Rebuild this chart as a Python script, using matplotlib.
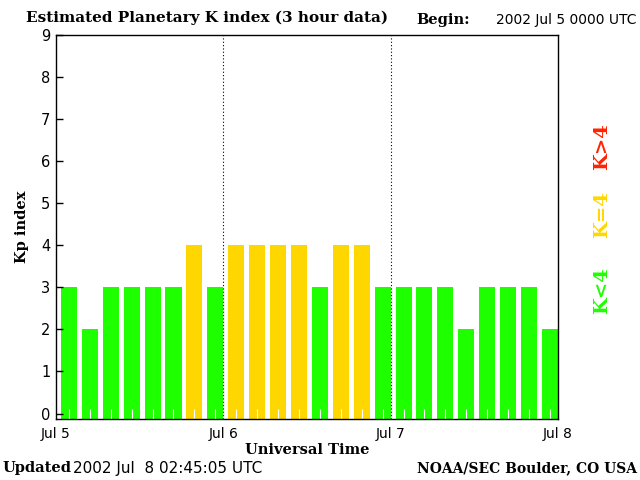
import numpy as np
import matplotlib.pyplot as plt

# Kp values, 3-hour intervals starting 2002 Jul 5 00 UT
kp = [3, 2, 3, 3, 3, 3, 4, 3,
      4, 4, 4, 4, 3, 4, 4, 3,
      3, 3, 3, 2, 3, 3, 3, 2]
day_labels = ["Jul 5", "Jul 6", "Jul 7", "Jul 8"]
kp_ticks = list(range(10))

green = "#1EFF00"
yellow = "#FFD700"
red = "#FF2200"

serif = "DejaVu Serif"
sans = "DejaVu Sans"

fig = plt.figure(figsize=(6.4, 4.8), dpi=100)
ax = fig.add_axes([56 / 640, 1 - 419 / 480, 502 / 640, 384 / 480])

hours = np.arange(len(kp)) * 3
ymin = -0.13
colors = [green if k < 4 else (yellow if k == 4 else red) for k in kp]
ax.bar(hours + 0.7, np.array(kp) - ymin, width=2.3, bottom=ymin,
       align="edge", color=colors, linewidth=0)

ax.set_xlim(0, 72)
ax.set_ylim(ymin, 9)
for d in (24, 48):
    ax.axvline(d, color="black", linestyle=(0, (1, 2)), linewidth=0.8)

ax.set_xticks([0, 24, 48, 72])
ax.set_xticklabels(day_labels, fontfamily=sans, fontsize=10)
ax.set_yticks(kp_ticks)
ax.set_yticklabels([str(k) for k in kp_ticks], fontfamily=sans, fontsize=10.5)
ax.tick_params(axis="x", length=0, pad=6)
ax.tick_params(axis="y", direction="in", length=5, width=1, pad=4)
# small white marks at the foot of each bar
ax.set_xticks(hours + 1.85, minor=True)
ax.tick_params(axis="x", which="minor", direction="in", length=7,
               width=0.8, color="white")
for s in ax.spines.values():
    s.set_linewidth(1)

ax.set_xlabel("Universal Time", fontfamily=serif, fontweight="bold",
              fontsize=10.5, labelpad=1)
ax.set_ylabel("Kp index", fontfamily=serif, fontweight="bold",
              fontsize=10.5, labelpad=9)

fig.text(26 / 640, 1 - 18 / 480, "Estimated Planetary K index (3 hour data)",
         fontfamily=serif, fontweight="bold", fontsize=11, va="center")
fig.text(416 / 640, 1 - 20 / 480, "Begin:", fontfamily=serif,
         fontweight="bold", fontsize=10.5, va="center")
fig.text(637 / 640, 1 - 20 / 480, "2002 Jul 5 0000 UTC", fontfamily=sans,
         fontsize=10, va="center", ha="right")
fig.text(2 / 640, 1 - 468 / 480, "Updated", fontfamily=serif,
         fontweight="bold", fontsize=10.5, va="center")
fig.text(73 / 640, 1 - 468 / 480, "2002 Jul  8 02:45:05 UTC",
         fontfamily=sans, fontsize=11, va="center")
fig.text(637 / 640, 1 - 468 / 480, "NOAA/SEC Boulder, CO USA",
         fontfamily=serif, fontweight="bold", fontsize=10, va="center",
         ha="right")

for label, col, yc in [("K>4", red, 147), ("K=4", yellow, 215),
                       ("K<4", green, 291)]:
    fig.text(602 / 640, 1 - yc / 480, label, color=col, rotation=90,
             fontfamily=serif, fontweight="bold", fontsize=14,
             ha="center", va="center")

fig.savefig("out.png", dpi=100)
